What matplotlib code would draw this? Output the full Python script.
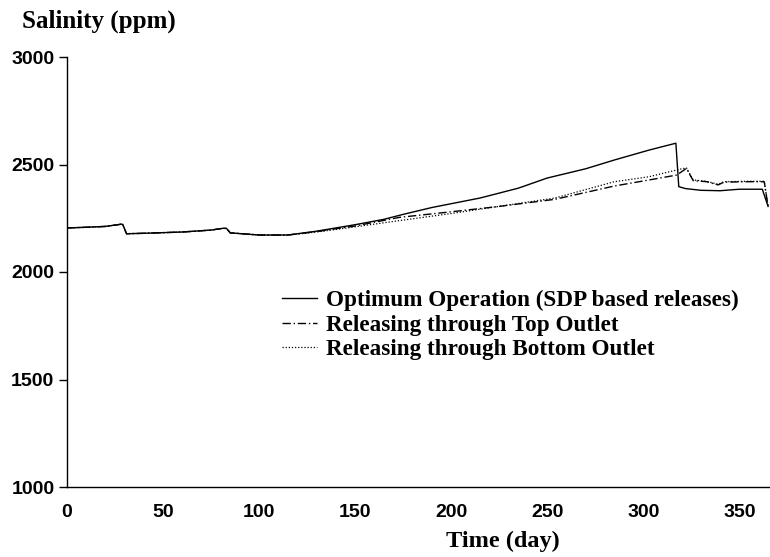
import numpy as np
import matplotlib
matplotlib.use("Agg")
from matplotlib import pyplot as plt

# salinity (day, ppm)
opt_day = [0, 10, 20, 28, 29, 31, 40, 60, 75, 81, 83, 85, 100, 115, 130, 150, 165, 175,
           190, 215, 235, 250, 270, 285, 303, 317, 318.5, 322, 330, 340, 350, 362, 365]
opt_ppm = [2205, 2208, 2212, 2222, 2222, 2178, 2180, 2186, 2195, 2203, 2203, 2182, 2172,
           2172, 2190, 2220, 2245, 2268, 2300, 2344, 2390, 2437, 2480, 2521, 2567, 2599,
           2397, 2388, 2380, 2378, 2385, 2385, 2305]

top_day = [0, 10, 20, 28, 29, 31, 40, 60, 75, 81, 83, 85, 100, 115, 130, 150, 173,
           200, 224, 254, 285, 303, 317.5, 322.5, 326, 333, 339, 342, 355, 363, 365]
top_ppm = [2205, 2208, 2212, 2222, 2222, 2178, 2180, 2186, 2195, 2203, 2203, 2182, 2172,
           2172, 2188, 2214, 2254, 2280, 2304, 2338, 2400, 2428, 2451, 2482, 2425, 2420,
           2405, 2418, 2420, 2420, 2305]

bot_day = [0, 10, 20, 28, 29, 31, 40, 60, 75, 81, 83, 85, 100, 115, 130, 150, 173,
           200, 224, 254, 285, 303, 319, 322.5, 326, 333, 339, 342, 355, 363, 365]
bot_ppm = [2205, 2208, 2212, 2222, 2222, 2178, 2180, 2186, 2195, 2203, 2203, 2182, 2172,
           2172, 2186, 2210, 2239, 2272, 2304, 2344, 2420, 2443, 2478, 2484, 2428, 2422,
           2408, 2420, 2422, 2422, 2305]

labels = ["Optimum Operation (SDP based releases)",
          "Releasing through Top Outlet",
          "Releasing through Bottom Outlet"]

serif = "Liberation Serif"
sans = "Liberation Sans"

fig = plt.figure(figsize=(7.7, 5.57), dpi=100)
ax = fig.add_axes([67 / 770, 1 - 487 / 557, 1 - 67 / 770, (487 - 57) / 557])

ax.plot(opt_day, opt_ppm, color="black", lw=1.0, ls="-", label=labels[0])
ax.plot(top_day, top_ppm, color="black", lw=1.0, ls=(0, (6, 2, 1, 2)), label=labels[1])
ax.plot(bot_day, bot_ppm, color="black", lw=0.9, ls=(0, (1, 1.5)), label=labels[2])

ax.set_xlim(0, 366)
ax.set_ylim(1000, 3000)
ax.set_xticks(np.arange(0, 351, 50))
ax.set_yticks(np.arange(1000, 3001, 500))
for side in ["top", "right"]:
    ax.spines[side].set_visible(False)
ax.spines["left"].set_linewidth(1.0)
ax.spines["bottom"].set_linewidth(1.0)
ax.tick_params(axis="y", length=6, width=1, pad=3)
ax.tick_params(axis="x", length=0, pad=12)
for t in ax.get_xticklabels() + ax.get_yticklabels():
    t.set_fontfamily(sans)
    t.set_fontweight("bold")
    t.set_fontsize(14)

fig.text(22 / 770, 1 - 21 / 557, "Salinity (ppm)", family=serif, weight="bold",
         fontsize=18, ha="left", va="center")
fig.text(503 / 770, 1 - 541 / 557, "Time (day)", family=serif, weight="bold",
         fontsize=17.5, ha="center", va="center")

leg = ax.legend(loc="upper left", bbox_to_anchor=(282 / 770, 1 - 290 / 557),
                bbox_transform=fig.transFigure, frameon=False, handlelength=1.5,
                handletextpad=0.4, labelspacing=0.14, borderpad=0, borderaxespad=0,
                prop={"family": serif, "weight": "bold", "size": 16.7})

fig.savefig("out.png", dpi=100)
